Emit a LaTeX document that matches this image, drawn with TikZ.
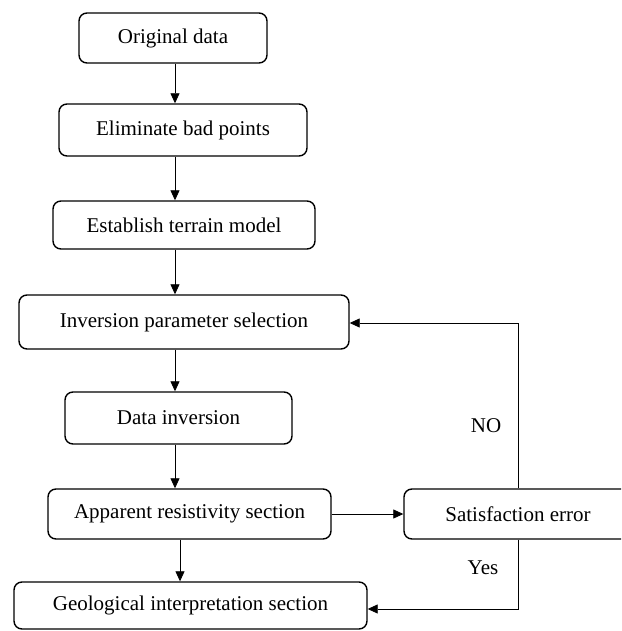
\documentclass[tikz,border=0pt]{standalone}
\usepackage{fontspec}
\setmainfont{Liberation Serif}
\usetikzlibrary{arrows.meta}
\begin{document}
\begin{tikzpicture}[x=1pt,y=-1pt,
  box/.style={draw,line width=1.4pt,rounded corners=8pt,inner sep=0pt,
    font=\fontsize{21}{24}\selectfont},
  arr/.style={-{Triangle[length=10pt,width=9pt]},line width=0.8pt},
  lbl/.style={font=\fontsize{21}{24}\selectfont}]
\useasboundingbox (0,0) rectangle (621,631);
\clip (0,0) rectangle (621,631);
\node[box,minimum width=188pt,minimum height=50pt] (b1) at (173,38) {Original data};
\node[box,minimum width=248pt,minimum height=52pt] (b2) at (183,130) {Eliminate bad points};
\node[box,minimum width=262pt,minimum height=48pt] (b3) at (184,225) {Establish terrain model};
\node[box,minimum width=330pt,minimum height=54pt] (b4) at (184,322) {Inversion parameter selection};
\node[box,minimum width=227pt,minimum height=52pt] (b5) at (178.5,418) {Data inversion};
\node[box,minimum width=283pt,minimum height=50pt] (b6) at (189.5,514) {Apparent resistivity section};
\node[box,minimum width=353pt,minimum height=47pt] (b7) at (190.5,605.5) {Geological interpretation section};
\node[box,minimum width=228pt,minimum height=50pt] (s) at (518,514) {Satisfaction error};
\coordinate (ax) at (175,0);
\coordinate (bx) at (180,0);
\coordinate (ly) at (0,323);
\coordinate (yy) at (0,609);
\draw[arr] (b1.south -| ax) -- (b2.north -| ax);
\draw[arr] (b2.south -| ax) -- (b3.north -| ax);
\draw[arr] (b3.south -| ax) -- (b4.north -| ax);
\draw[arr] (b4.south -| ax) -- (b5.north -| ax);
\draw[arr] (b5.south -| ax) -- (b6.north -| ax);
\draw[arr] (b6.south -| bx) -- (b7.north -| bx);
\draw[arr] (b6.east) -- (s.west);
\draw[arr] (s.north) -- (s.north |- ly) -- (b4.east |- ly);
\draw[arr] (s.south) -- (s.south |- yy) -- (b7.east |- yy);
\node[lbl] (no) at (486,426) {NO};
\node[lbl] (yes) at (483,568) {Yes};
\end{tikzpicture}
\end{document}
